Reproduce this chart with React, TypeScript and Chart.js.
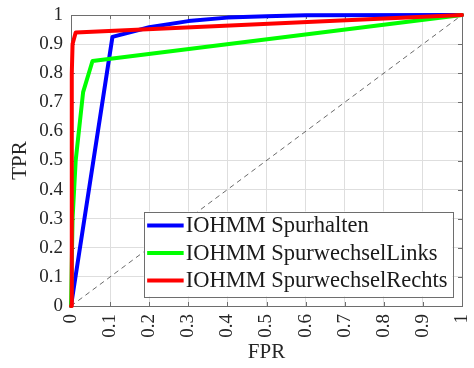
import React, { useEffect, useRef } from 'react';
import { Chart, registerables } from 'chart.js';

Chart.register(...registerables);

const seriesLabels = ['IOHMM Spurhalten', 'IOHMM SpurwechselLinks', 'IOHMM SpurwechselRechts'];
const seriesColors = ['#0000ff', '#00ff00', '#ff0000'];

const fprSpurhalten = [0, 0.106, 0.2, 0.3, 0.4, 0.5, 0.6, 1];
const tprSpurhalten = [0, 0.925, 0.958, 0.979, 0.991, 0.996, 0.999, 1];

const fprLinks = [0, 0.004, 0.012, 0.031, 0.055, 1];
const tprLinks = [0, 0.3, 0.5, 0.735, 0.842, 1];

const fprRechts = [0, 0.002, 0.004, 0.012, 1];
const tprRechts = [0, 0.8, 0.9, 0.94, 1];

const diagonalX = [0, 1];
const diagonalY = [0, 1];

const xTitle = 'FPR';
const yTitle = 'TPR';

const FONT = '"Liberation Serif", "DejaVu Serif", serif';

const toPoints = (xs: number[], ys: number[]) => xs.map((x, i) => ({ x, y: ys[i] }));

const fmt = (v: number | string) => {
  const n = Math.round(Number(v) * 10) / 10;
  return String(n);
};

const framePlugin = {
  id: 'frame',
  beforeDatasetsDraw(chart: any) {
    const { ctx, chartArea, scales } = chart;
    const { left, right, top, bottom } = chartArea;
    ctx.save();
    ctx.strokeStyle = '#6e6e6e';
    ctx.lineWidth = 1;
    ctx.beginPath();
    const tl = 4;
    scales.x.ticks.forEach((t: any) => {
      const px = Math.round(scales.x.getPixelForValue(t.value)) + 0.5;
      ctx.moveTo(px, bottom);
      ctx.lineTo(px, bottom - tl);
      ctx.moveTo(px, top);
      ctx.lineTo(px, top + tl);
    });
    scales.y.ticks.forEach((t: any) => {
      const py = Math.round(scales.y.getPixelForValue(t.value)) + 0.5;
      ctx.moveTo(left, py);
      ctx.lineTo(left + tl, py);
      ctx.moveTo(right, py);
      ctx.lineTo(right - tl, py);
    });
    ctx.stroke();
    ctx.strokeRect(Math.round(left) + 0.5, Math.round(top) + 0.5, Math.round(right - left), Math.round(bottom - top));
    ctx.restore();
  },
};

const legendPlugin = {
  id: 'boxLegend',
  afterDraw(chart: any) {
    const { ctx, chartArea } = chart;
    const fontSize = 22.5;
    ctx.save();
    ctx.font = `${fontSize}px ${FONT}`;
    const items = chart.data.datasets.filter((d: any) => d.showInLegend);
    items.sort((a: any, b: any) => a.legendIndex - b.legendIndex);
    let maxW = 0;
    items.forEach((d: any) => {
      maxW = Math.max(maxW, ctx.measureText(d.label).width);
    });
    const padL = 3.5;
    const lineLen = 36.5;
    const gap = 2;
    const padR = 5;
    const rowH = 27.5;
    const padTop = 14;
    const padBottom = 16;
    const w = padL + lineLen + gap + maxW + padR;
    const h = padTop + rowH * (items.length - 1) + padBottom;
    const x0 = chartArea.right - 9.5 - w;
    const y0 = chartArea.bottom - 9.5 - h;
    ctx.fillStyle = '#ffffff';
    ctx.fillRect(x0, y0, w, h);
    ctx.strokeStyle = '#6e6e6e';
    ctx.lineWidth = 1;
    ctx.strokeRect(Math.round(x0) + 0.5, Math.round(y0) + 0.5, Math.round(w), Math.round(h));
    items.forEach((d: any, i: number) => {
      const cy = y0 + padTop + i * rowH;
      ctx.strokeStyle = d.borderColor;
      ctx.lineWidth = 4;
      ctx.beginPath();
      ctx.moveTo(x0 + padL, cy);
      ctx.lineTo(x0 + padL + lineLen, cy);
      ctx.stroke();
      ctx.fillStyle = '#1a1a1a';
      ctx.textBaseline = 'middle';
      ctx.textAlign = 'left';
      ctx.fillText(d.label, x0 + padL + lineLen + gap, cy + 1);
    });
    ctx.restore();
  },
};

export default function App() {
  const ref = useRef<HTMLCanvasElement | null>(null);

  useEffect(() => {
    if (!ref.current) return;
    const seriesX = [fprSpurhalten, fprLinks, fprRechts];
    const seriesY = [tprSpurhalten, tprLinks, tprRechts];
    const datasets: any[] = seriesLabels.map((label, i) => ({
      label,
      data: toPoints(seriesX[i], seriesY[i]),
      borderColor: seriesColors[i],
      backgroundColor: seriesColors[i],
      borderWidth: 4,
      pointRadius: 0,
      tension: 0,
      clip: false,
      order: 3 - i,
      showInLegend: true,
      legendIndex: i,
      borderJoinStyle: 'round',
      borderCapStyle: 'round',
    }));
    datasets.push({
      label: 'diagonal',
      data: toPoints(diagonalX, diagonalY),
      borderColor: '#444444',
      borderWidth: 0.8,
      borderDash: [5, 4],
      pointRadius: 0,
      order: 10,
      showInLegend: false,
    });

    const chart = new Chart(ref.current, {
      type: 'line',
      data: { datasets },
      plugins: [framePlugin, legendPlugin],
      options: {
        responsive: false,
        animation: false,
        layout: { padding: { top: 15, right: 12, left: 0, bottom: 0 } },
        plugins: {
          legend: { display: false },
          tooltip: { enabled: false },
        },
        scales: {
          x: {
            type: 'linear',
            min: 0,
            max: 1,
            afterFit: (s: any) => {
              s.height = 62;
              s.paddingLeft = 0;
              s.paddingRight = 0;
            },
            ticks: {
              stepSize: 0.1,
              autoSkip: false,
              minRotation: 90,
              maxRotation: 90,
              padding: 8,
              color: '#262626',
              font: { family: FONT, size: 19 },
              callback: (v: any) => fmt(v),
            },
            grid: { color: '#dedede', lineWidth: 1, drawTicks: false },
            border: { display: false },
            title: {
              display: true,
              text: xTitle,
              color: '#262626',
              font: { family: FONT, size: 21 },
              padding: { top: 0, bottom: 3 },
            },
          },
          y: {
            type: 'linear',
            min: 0,
            max: 1,
            afterFit: (s: any) => {
              s.width = 71;
              s.paddingTop = 0;
              s.paddingBottom = 0;
            },
            ticks: {
              stepSize: 0.1,
              autoSkip: false,
              padding: 8,
              color: '#262626',
              font: { family: FONT, size: 19 },
              callback: (v: any) => fmt(v),
            },
            grid: { color: '#dedede', lineWidth: 1, drawTicks: false },
            border: { display: false },
            title: {
              display: true,
              text: yTitle,
              color: '#262626',
              font: { family: FONT, size: 21 },
              padding: { top: 8, bottom: 0 },
            },
          },
        },
      } as any,
    });
    return () => chart.destroy();
  }, []);

  return (
    <div style={{ position: 'fixed', left: 0, top: 0, width: 474, height: 368, background: '#fff' }}>
      <canvas ref={ref} width={474} height={368} style={{ display: 'block' }} />
    </div>
  );
}
